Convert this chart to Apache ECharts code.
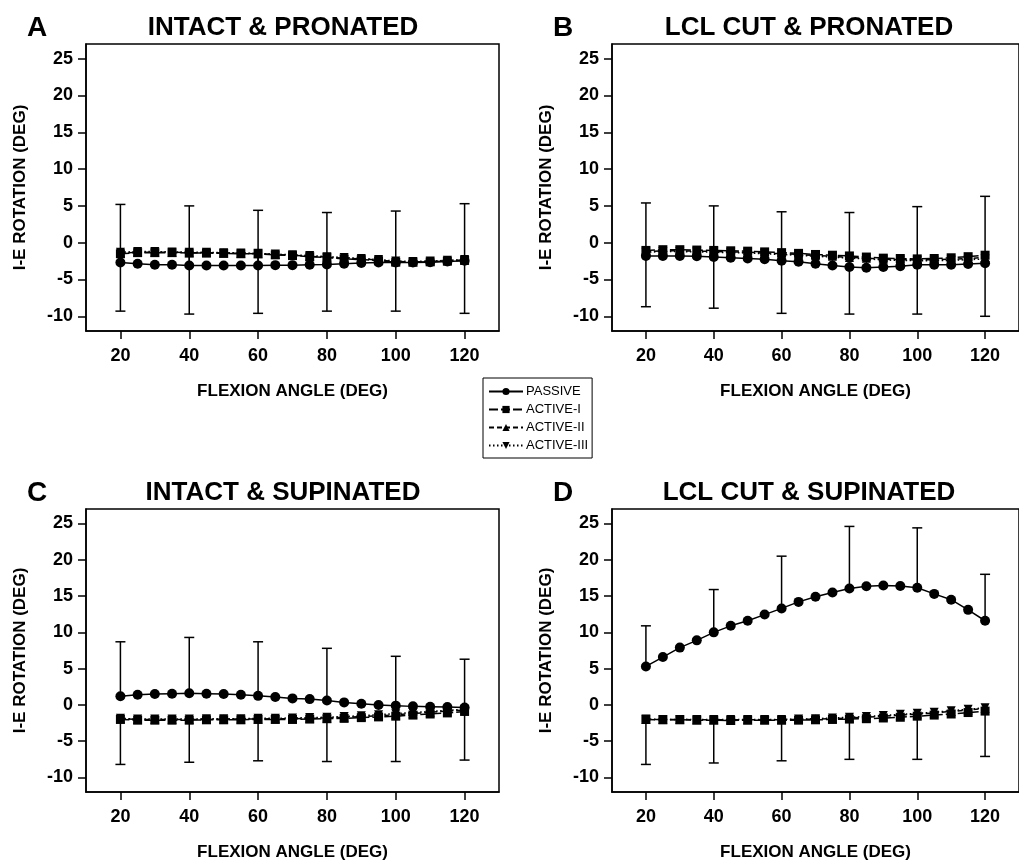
<!DOCTYPE html>
<html>
<head>
<meta charset="utf-8">
<script src="https://cdn.jsdelivr.net/npm/echarts@6/dist/echarts.min.js"></script>
<style>
  html, body { margin: 0; padding: 0; background: #fff; }
  #chart { width: 1019px; height: 862px; }
</style>
</head>
<body>
<div id="chart"></div>
<script>
// flexion angles (deg)
var angles = [20, 25, 30, 35, 40, 45, 50, 55, 60, 65, 70, 75, 80, 85, 90, 95, 100, 105, 110, 115, 120];
var xTicks = [20, 40, 60, 80, 100, 120];
var yTicks = [-10, -5, 0, 5, 10, 15, 20, 25];
var seriesNames = ['PASSIVE', 'ACTIVE-I', 'ACTIVE-II', 'ACTIVE-III'];
var panelTitles = ['INTACT & PRONATED', 'LCL CUT & PRONATED', 'INTACT & SUPINATED', 'LCL CUT & SUPINATED'];
var panelLetters = ['A', 'B', 'C', 'D'];

// A: intact & pronated
var passiveA   = [-2.7, -2.85, -3.0, -3.0, -3.1, -3.1, -3.1, -3.1, -3.1, -3.05, -3.05, -3.0, -2.95, -2.85, -2.75, -2.7, -2.7, -2.7, -2.65, -2.55, -2.45];
var activeIA   = [-1.5, -1.35, -1.35, -1.35, -1.4, -1.4, -1.45, -1.5, -1.5, -1.65, -1.75, -1.9, -2.0, -2.2, -2.3, -2.45, -2.65, -2.65, -2.6, -2.5, -2.4];
var activeIIA  = [-1.4, -1.3, -1.3, -1.3, -1.35, -1.35, -1.4, -1.45, -1.5, -1.6, -1.7, -1.85, -1.95, -2.1, -2.2, -2.35, -2.55, -2.6, -2.55, -2.45, -2.35];
var activeIIIA = [-1.3, -1.2, -1.2, -1.25, -1.3, -1.3, -1.35, -1.4, -1.45, -1.55, -1.65, -1.75, -1.9, -2.0, -2.15, -2.3, -2.5, -2.55, -2.5, -2.4, -2.3];

// B: LCL cut & pronated
var passiveB   = [-1.8, -1.8, -1.8, -1.85, -1.95, -2.05, -2.15, -2.25, -2.45, -2.6, -2.85, -3.1, -3.3, -3.4, -3.3, -3.2, -3.0, -3.0, -3.0, -2.9, -2.8];
var activeIB   = [-1.05, -0.95, -0.95, -1.0, -1.05, -1.1, -1.15, -1.25, -1.35, -1.45, -1.6, -1.7, -1.8, -1.95, -2.1, -2.15, -2.2, -2.15, -2.05, -1.9, -1.7];
var activeIIB  = [-1.2, -1.1, -1.1, -1.15, -1.2, -1.25, -1.3, -1.4, -1.5, -1.6, -1.75, -1.85, -2.0, -2.1, -2.25, -2.3, -2.35, -2.3, -2.25, -2.15, -2.0];
var activeIIIB = [-1.3, -1.2, -1.2, -1.25, -1.3, -1.35, -1.4, -1.5, -1.6, -1.7, -1.85, -1.95, -2.1, -2.2, -2.35, -2.4, -2.45, -2.45, -2.4, -2.3, -2.2];

// C: intact & supinated
var passiveC   = [1.2, 1.4, 1.5, 1.55, 1.6, 1.55, 1.5, 1.4, 1.25, 1.1, 0.9, 0.8, 0.6, 0.35, 0.15, 0.0, -0.1, -0.2, -0.25, -0.3, -0.35];
var activeIC   = [-2.0, -2.1, -2.1, -2.1, -2.1, -2.05, -2.05, -2.05, -2.0, -2.0, -2.0, -1.95, -1.9, -1.85, -1.75, -1.65, -1.55, -1.4, -1.25, -1.1, -0.9];
var activeIIC  = [-1.9, -2.0, -2.0, -2.0, -2.0, -2.0, -1.95, -1.95, -1.95, -1.9, -1.9, -1.85, -1.8, -1.7, -1.6, -1.5, -1.35, -1.2, -1.0, -0.85, -0.7];
var activeIIIC = [-1.85, -1.95, -1.95, -1.95, -1.95, -1.9, -1.9, -1.9, -1.85, -1.85, -1.8, -1.75, -1.7, -1.6, -1.5, -1.35, -1.2, -1.05, -0.9, -0.75, -0.6];

// D: LCL cut & supinated
var passiveD   = [5.3, 6.6, 7.9, 8.9, 10.0, 10.9, 11.6, 12.45, 13.3, 14.2, 14.9, 15.5, 16.05, 16.35, 16.45, 16.4, 16.15, 15.3, 14.5, 13.1, 11.6];
var activeID   = [-2.0, -2.05, -2.05, -2.1, -2.1, -2.15, -2.1, -2.1, -2.1, -2.1, -2.05, -2.0, -1.95, -1.9, -1.8, -1.7, -1.55, -1.4, -1.25, -1.05, -0.85];
var activeIID  = [-2.0, -2.0, -2.0, -2.05, -2.05, -2.05, -2.05, -2.05, -2.05, -2.0, -1.95, -1.9, -1.8, -1.7, -1.55, -1.4, -1.25, -1.1, -0.9, -0.7, -0.5];
var activeIIID = [-1.95, -2.0, -2.0, -2.0, -2.0, -2.0, -2.0, -2.0, -2.0, -1.95, -1.9, -1.8, -1.7, -1.6, -1.45, -1.3, -1.15, -1.0, -0.8, -0.6, -0.4];

// SD whisker ends at the 20-deg steps
var errAngles = [20, 40, 60, 80, 100, 120];
var errUpA = [5.2, 5.0, 4.4, 4.1, 4.3, 5.3];
var errLoA = [-9.3, -9.7, -9.6, -9.3, -9.3, -9.6];
var errUpB = [5.4, 5.0, 4.2, 4.1, 4.9, 6.3];
var errLoB = [-8.7, -8.9, -9.6, -9.7, -9.7, -10.0];
var errUpC = [8.7, 9.3, 8.7, 7.8, 6.7, 6.3];
var errLoC = [-8.2, -7.9, -7.7, -7.8, -7.8, -7.6];
var errUpD = [10.9, 15.9, 20.5, 24.6, 24.4, 18.0];
var errLoD = [-8.2, -8.0, -7.7, -7.5, -7.5, -7.1];

var panels = [
  { lines: [passiveA, activeIA, activeIIA, activeIIIA], up: errUpA, lo: errLoA },
  { lines: [passiveB, activeIB, activeIIB, activeIIIB], up: errUpB, lo: errLoB },
  { lines: [passiveC, activeIC, activeIIC, activeIIIC], up: errUpC, lo: errLoC },
  { lines: [passiveD, activeID, activeIID, activeIIID], up: errUpD, lo: errLoD }
];

var FONT = '"Liberation Sans", Arial, sans-serif';
var grids = [
  { left: 86, top: 44, width: 413, height: 287 },
  { left: 612, top: 44, width: 414, height: 287 },
  { left: 86, top: 509, width: 413, height: 287 },
  { left: 612, top: 509, width: 414, height: 287 }
];
var symbols = ['circle', 'rect', 'triangle', 'path://M0,0 L10,0 L5,10 Z'];
var dashes = ['solid', [9, 3], [5, 3], [1.5, 2.5]];

var option = {
  backgroundColor: '#fff',
  animation: false,
  textStyle: { fontFamily: FONT },
  grid: grids.map(function (g) {
    return Object.assign({ show: true, borderColor: '#000', borderWidth: 1.5, backgroundColor: 'transparent' }, g);
  }),
  title: [],
  legend: {
    orient: 'vertical',
    left: 483,
    top: 378,
    data: seriesNames,
    itemWidth: 34,
    itemHeight: 9,
    itemGap: 5,
    padding: [7, 4, 6, 5],
    borderColor: '#000',
    borderWidth: 1,
    borderRadius: 0,
    textStyle: { fontSize: 13, color: '#000', fontFamily: FONT, padding: [0, 0, 0, -2] }
  },
  xAxis: [],
  yAxis: [],
  series: []
};

grids.forEach(function (g, i) {
  var ty = g.top - 34;
  option.title.push({
    text: panelTitles[i], left: g.left + 192, top: ty, textAlign: 'center',
    textStyle: { fontSize: 26, fontWeight: 'bold', color: '#000', fontFamily: FONT }
  });
  option.title.push({
    text: panelLetters[i], left: g.left - 64, top: ty - 1,
    textStyle: { fontSize: 28, fontWeight: 'bold', color: '#000', fontFamily: FONT }
  });
  option.xAxis.push({
    type: 'value', gridIndex: i, min: 10, max: 130, position: 'bottom',
    name: 'FLEXION ANGLE (DEG)', nameLocation: 'middle', nameGap: 52,
    nameTextStyle: { fontSize: 17, fontWeight: 'bold', color: '#000', fontFamily: FONT },
    axisLine: { show: true, onZero: false, lineStyle: { color: '#000', width: 1.5 } },
    axisTick: { show: true, length: 8, customValues: xTicks, lineStyle: { color: '#000', width: 1.5 } },
    axisLabel: { customValues: xTicks, fontSize: 18, fontWeight: 'bold', color: '#000', margin: 16, fontFamily: FONT },
    splitLine: { show: false }
  });
  option.yAxis.push({
    type: 'value', gridIndex: i, min: -12, max: 27, position: 'left',
    name: 'I-E ROTATION (DEG)', nameLocation: 'middle', nameGap: 57,
    nameTextStyle: { fontSize: 17, fontWeight: 'bold', color: '#000', fontFamily: FONT },
    axisLine: { show: true, onZero: false, lineStyle: { color: '#000', width: 1.5 } },
    axisTick: { show: true, length: 8, customValues: yTicks, lineStyle: { color: '#000', width: 1.5 } },
    axisLabel: { customValues: yTicks, fontSize: 18, fontWeight: 'bold', color: '#000', margin: 13, fontFamily: FONT },
    splitLine: { show: false }
  });

  var p = panels[i];
  // error bars: upward from passive, downward from active-I
  var errData = [];
  errAngles.forEach(function (a, k) {
    var idx = angles.indexOf(a);
    errData.push([a, p.lines[0][idx], p.up[k]]);
    errData.push([a, p.lines[1][idx], p.lo[k]]);
  });
  option.series.push({
    type: 'custom', name: 'SD' + i, xAxisIndex: i, yAxisIndex: i, z: 1,
    data: errData,
    renderItem: function (params, api) {
      var base = api.coord([api.value(0), api.value(1)]);
      var end = api.coord([api.value(0), api.value(2)]);
      var st = { stroke: '#000', lineWidth: 1.5 };
      return {
        type: 'group',
        children: [
          { type: 'line', shape: { x1: base[0], y1: base[1], x2: end[0], y2: end[1] }, style: st },
          { type: 'line', shape: { x1: end[0] - 5, y1: end[1], x2: end[0] + 5, y2: end[1] }, style: st }
        ]
      };
    }
  });

  p.lines.forEach(function (vals, s) {
    option.series.push({
      type: 'line', name: seriesNames[s], xAxisIndex: i, yAxisIndex: i, z: 3,
      data: angles.map(function (a, k) { return [a, vals[k]]; }),
      symbol: symbols[s],
      symbolSize: s === 0 ? 10 : 9,
      showSymbol: true,
      itemStyle: { color: '#000', borderWidth: 0 },
      lineStyle: { color: '#000', width: 1.5, type: dashes[s] },
      emphasis: { disabled: true }
    });
  });
});

var chart = echarts.init(document.getElementById('chart'));
chart.setOption(option);
</script>
</body>
</html>
